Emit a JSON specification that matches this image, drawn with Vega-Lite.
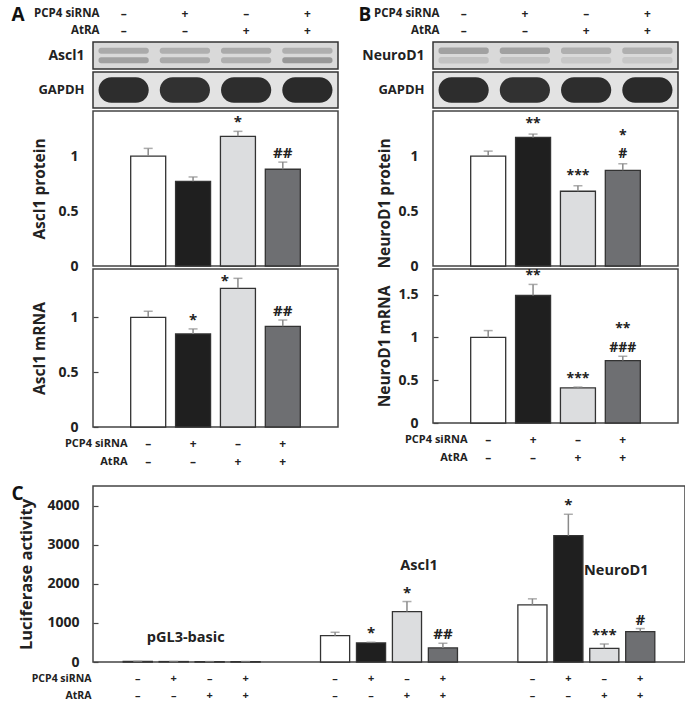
{
  "$schema": "https://vega.github.io/schema/vega-lite/v6.json",
  "background": "white",
  "padding": {"left": 10, "top": 5, "right": 2, "bottom": 0},
  "config": {
    "font": "Open Sans",
    "view": {"stroke": "#444", "strokeWidth": 1.5},
    "axis": {"labelFont": "Open Sans", "titleFont": "Open Sans", "labelFontWeight": "bold", "titleFontWeight": "bold", "labelColor": "#222", "titleColor": "#222", "grid": false, "domain": false, "labelFontSize": 14, "titleFontSize": 15.5, "tickColor": "#444", "tickWidth": 1.2},
    "text": {"font": "Open Sans", "fontWeight": "bold", "color": "#222"}
  },
  "resolve": {"scale": {"color": "independent", "xOffset": "independent", "yOffset": "independent"}},
  "datasets": {
    "design": [
      {"lane": 1, "factor": "PCP4 siRNA", "sign": "–"}, {"lane": 1, "factor": "AtRA", "sign": "–"},
      {"lane": 2, "factor": "PCP4 siRNA", "sign": "+"}, {"lane": 2, "factor": "AtRA", "sign": "–"},
      {"lane": 3, "factor": "PCP4 siRNA", "sign": "–"}, {"lane": 3, "factor": "AtRA", "sign": "+"},
      {"lane": 4, "factor": "PCP4 siRNA", "sign": "+"}, {"lane": 4, "factor": "AtRA", "sign": "+"}
    ],
    "designC": [
      {"grp": "pGL3-basic", "lane": 1, "factor": "PCP4 siRNA", "sign": "–"}, {"grp": "pGL3-basic", "lane": 1, "factor": "AtRA", "sign": "–"},
      {"grp": "pGL3-basic", "lane": 2, "factor": "PCP4 siRNA", "sign": "+"}, {"grp": "pGL3-basic", "lane": 2, "factor": "AtRA", "sign": "–"},
      {"grp": "pGL3-basic", "lane": 3, "factor": "PCP4 siRNA", "sign": "–"}, {"grp": "pGL3-basic", "lane": 3, "factor": "AtRA", "sign": "+"},
      {"grp": "pGL3-basic", "lane": 4, "factor": "PCP4 siRNA", "sign": "+"}, {"grp": "pGL3-basic", "lane": 4, "factor": "AtRA", "sign": "+"},
      {"grp": "Ascl1", "lane": 1, "factor": "PCP4 siRNA", "sign": "–"}, {"grp": "Ascl1", "lane": 1, "factor": "AtRA", "sign": "–"},
      {"grp": "Ascl1", "lane": 2, "factor": "PCP4 siRNA", "sign": "+"}, {"grp": "Ascl1", "lane": 2, "factor": "AtRA", "sign": "–"},
      {"grp": "Ascl1", "lane": 3, "factor": "PCP4 siRNA", "sign": "–"}, {"grp": "Ascl1", "lane": 3, "factor": "AtRA", "sign": "+"},
      {"grp": "Ascl1", "lane": 4, "factor": "PCP4 siRNA", "sign": "+"}, {"grp": "Ascl1", "lane": 4, "factor": "AtRA", "sign": "+"},
      {"grp": "NeuroD1", "lane": 1, "factor": "PCP4 siRNA", "sign": "–"}, {"grp": "NeuroD1", "lane": 1, "factor": "AtRA", "sign": "–"},
      {"grp": "NeuroD1", "lane": 2, "factor": "PCP4 siRNA", "sign": "+"}, {"grp": "NeuroD1", "lane": 2, "factor": "AtRA", "sign": "–"},
      {"grp": "NeuroD1", "lane": 3, "factor": "PCP4 siRNA", "sign": "–"}, {"grp": "NeuroD1", "lane": 3, "factor": "AtRA", "sign": "+"},
      {"grp": "NeuroD1", "lane": 4, "factor": "PCP4 siRNA", "sign": "+"}, {"grp": "NeuroD1", "lane": 4, "factor": "AtRA", "sign": "+"}
    ],
    "blots": [
      {"blot": "Ascl1", "lane": 1, "band": "upper", "density": 0.28}, {"blot": "Ascl1", "lane": 1, "band": "lower", "density": 0.32},
      {"blot": "Ascl1", "lane": 2, "band": "upper", "density": 0.26}, {"blot": "Ascl1", "lane": 2, "band": "lower", "density": 0.28},
      {"blot": "Ascl1", "lane": 3, "band": "upper", "density": 0.28}, {"blot": "Ascl1", "lane": 3, "band": "lower", "density": 0.26},
      {"blot": "Ascl1", "lane": 4, "band": "upper", "density": 0.26}, {"blot": "Ascl1", "lane": 4, "band": "lower", "density": 0.36},
      {"blot": "GAPDH", "lane": 1, "band": "main", "density": 0.86}, {"blot": "GAPDH", "lane": 2, "band": "main", "density": 0.84},
      {"blot": "GAPDH", "lane": 3, "band": "main", "density": 0.86}, {"blot": "GAPDH", "lane": 4, "band": "main", "density": 0.88},
      {"blot": "NeuroD1", "lane": 1, "band": "upper", "density": 0.32}, {"blot": "NeuroD1", "lane": 1, "band": "lower", "density": 0.18},
      {"blot": "NeuroD1", "lane": 2, "band": "upper", "density": 0.32}, {"blot": "NeuroD1", "lane": 2, "band": "lower", "density": 0.18},
      {"blot": "NeuroD1", "lane": 3, "band": "upper", "density": 0.26}, {"blot": "NeuroD1", "lane": 3, "band": "lower", "density": 0.16},
      {"blot": "NeuroD1", "lane": 4, "band": "upper", "density": 0.26}, {"blot": "NeuroD1", "lane": 4, "band": "lower", "density": 0.16}
    ],
    "bars": [
      {"panel": "Ap", "lane": 1, "value": 1.0, "upper": 1.07, "sig": "", "sigTop": "", "sigLeft": ""},
      {"panel": "Ap", "lane": 2, "value": 0.77, "upper": 0.81, "sig": "", "sigTop": "", "sigLeft": ""},
      {"panel": "Ap", "lane": 3, "value": 1.18, "upper": 1.225, "sig": "*", "sigTop": "", "sigLeft": ""},
      {"panel": "Ap", "lane": 4, "value": 0.88, "upper": 0.945, "sig": "##", "sigTop": "", "sigLeft": ""},
      {"panel": "Am", "lane": 1, "value": 1.0, "upper": 1.055, "sig": "", "sigTop": "", "sigLeft": ""},
      {"panel": "Am", "lane": 2, "value": 0.848, "upper": 0.894, "sig": "*", "sigTop": "", "sigLeft": ""},
      {"panel": "Am", "lane": 3, "value": 1.264, "upper": 1.355, "sig": "", "sigTop": "", "sigLeft": "*"},
      {"panel": "Am", "lane": 4, "value": 0.918, "upper": 0.975, "sig": "##", "sigTop": "", "sigLeft": ""},
      {"panel": "Bp", "lane": 1, "value": 1.0, "upper": 1.045, "sig": "", "sigTop": "", "sigLeft": ""},
      {"panel": "Bp", "lane": 2, "value": 1.17, "upper": 1.2, "sig": "**", "sigTop": "", "sigLeft": ""},
      {"panel": "Bp", "lane": 3, "value": 0.68, "upper": 0.73, "sig": "***", "sigTop": "", "sigLeft": ""},
      {"panel": "Bp", "lane": 4, "value": 0.87, "upper": 0.93, "sig": "#", "sigTop": "*", "sigLeft": ""},
      {"panel": "Bm", "lane": 1, "value": 1.0, "upper": 1.08, "sig": "", "sigTop": "", "sigLeft": ""},
      {"panel": "Bm", "lane": 2, "value": 1.49, "upper": 1.62, "sig": "**", "sigTop": "", "sigLeft": ""},
      {"panel": "Bm", "lane": 3, "value": 0.41, "upper": 0.42, "sig": "***", "sigTop": "", "sigLeft": ""},
      {"panel": "Bm", "lane": 4, "value": 0.73, "upper": 0.78, "sig": "###", "sigTop": "**", "sigLeft": ""}
    ],
    "lucif": [
      {"grp": "pGL3-basic", "lane": 1, "value": 15, "upper": 15, "sig": ""},
      {"grp": "pGL3-basic", "lane": 2, "value": 12, "upper": 12, "sig": ""},
      {"grp": "pGL3-basic", "lane": 3, "value": 10, "upper": 10, "sig": ""},
      {"grp": "pGL3-basic", "lane": 4, "value": 12, "upper": 12, "sig": ""},
      {"grp": "Ascl1", "lane": 1, "value": 674, "upper": 760, "sig": ""},
      {"grp": "Ascl1", "lane": 2, "value": 487, "upper": 505, "sig": "*"},
      {"grp": "Ascl1", "lane": 3, "value": 1290, "upper": 1546, "sig": "*"},
      {"grp": "Ascl1", "lane": 4, "value": 359, "upper": 479, "sig": "##"},
      {"grp": "NeuroD1", "lane": 1, "value": 1462, "upper": 1615, "sig": ""},
      {"grp": "NeuroD1", "lane": 2, "value": 3231, "upper": 3777, "sig": "*"},
      {"grp": "NeuroD1", "lane": 3, "value": 350, "upper": 462, "sig": "***"},
      {"grp": "NeuroD1", "lane": 4, "value": 778, "upper": 855, "sig": "#"}
    ],
    "genes": [
      {"grp": "pGL3-basic", "lane": 2, "at": 614},
      {"grp": "Ascl1", "lane": 3, "at": 2455},
      {"grp": "NeuroD1", "lane": 3, "at": 2327}
    ]
  },
  "vconcat": [
    {
      "resolve": {"scale": {"color": "independent", "xOffset": "independent", "yOffset": "independent"}},
      "hconcat": [
        {
          "resolve": {"scale": {"color": "independent", "xOffset": "independent", "yOffset": "independent"}},
          "vconcat": [
            {
              "width": 245, "height": 34,
              "view": {"stroke": null},
              "data": {"name": "design"},
              "mark": {"type": "text", "fontSize": 12, "color": "#222"},
              "encoding": {
                "x": {"field": "lane", "type": "ordinal", "scale": {"type": "band", "paddingInner": 0, "paddingOuter": 0}, "axis": {"orient": "top", "labels": false, "ticks": false, "domain": false, "title": "A", "titleX": -82, "titleY": 15, "titleAlign": "left", "titleBaseline": "alphabetic", "titleAngle": 0, "titleFontSize": 19, "titleColor": "#111"}},
                "y": {"field": "factor", "type": "nominal", "sort": ["PCP4 siRNA", "AtRA"], "scale": {"type": "band", "paddingInner": 0, "paddingOuter": 0}, "axis": {"title": null, "ticks": false, "labelPadding": -6, "labelFontSize": 11.5}},
                "text": {"field": "sign"}
              }
            },
            {
              "width": 245, "height": 27,
              "view": {"fill": "#d9d9d9", "stroke": "#333", "strokeWidth": 1.5},
              "data": {"name": "blots"},
              "transform": [{"filter": "datum.blot === 'Ascl1'"}],
              "mark": {"type": "bar", "cornerRadius": 2.5},
              "encoding": {
                "x": {"field": "lane", "type": "ordinal", "scale": {"paddingInner": 0.18, "paddingOuter": 0.09}, "axis": null},
                "y": {"field": "blot", "type": "nominal", "scale": {"paddingInner": 0, "paddingOuter": 0}, "axis": {"title": null, "ticks": false, "labelPadding": 9, "labelFontSize": 14}},
                "yOffset": {"field": "band", "type": "nominal", "sort": ["upper", "lower"], "scale": {"paddingInner": 0.35, "paddingOuter": 0.6}},
                "color": {"field": "density", "type": "quantitative", "scale": {"domain": [0, 1], "range": ["#efefef", "#141414"]}, "legend": null}
              }
            },
            {
              "width": 245, "height": 36,
              "view": {"fill": "#e3e3e3", "stroke": "#333", "strokeWidth": 1.5},
              "data": {"name": "blots"},
              "transform": [{"filter": "datum.blot === 'GAPDH'"}],
              "mark": {"type": "bar", "cornerRadius": 13},
              "encoding": {
                "x": {"field": "lane", "type": "ordinal", "scale": {"paddingInner": 0.18, "paddingOuter": 0.09}, "axis": null},
                "y": {"field": "blot", "type": "nominal", "scale": {"paddingInner": 0, "paddingOuter": 0}, "axis": {"title": null, "ticks": false, "labelPadding": 9, "labelFontSize": 13}},
                "yOffset": {"field": "band", "type": "nominal", "scale": {"paddingInner": 0, "paddingOuter": 0.2}},
                "color": {"field": "density", "type": "quantitative", "scale": {"domain": [0, 1], "range": ["#efefef", "#141414"]}, "legend": null}
              }
            },
            {
              "width": 245, "height": 155,
              "data": {"name": "bars"},
              "transform": [{"filter": "datum.panel === 'Ap'"}],
              "encoding": {"x": {"field": "lane", "type": "ordinal", "scale": {"type": "band", "paddingInner": 0.22, "paddingOuter": 0.84}, "axis": null}},
              "layer": [
                {"mark": {"type": "bar", "stroke": "#333", "strokeWidth": 1.3},
                 "encoding": {
                   "y": {"field": "value", "type": "quantitative", "scale": {"domain": [0, 1.41], "nice": false}, "axis": {"title": "Ascl1 protein", "values": [0, 0.5, 1], "format": "~g", "ticks": false, "labelPadding": 15, "titlePadding": 10}},
                   "color": {"field": "lane", "type": "ordinal", "scale": {"range": ["#ffffff", "#1f1f1f", "#dcdddf", "#6e6f72"]}, "legend": null}}},
                {"mark": {"type": "rule", "color": "#8a8a8a", "strokeWidth": 1.5}, "encoding": {"y": {"field": "value", "type": "quantitative"}, "y2": {"field": "upper"}}},
                {"mark": {"type": "tick", "color": "#8a8a8a", "thickness": 1.5, "size": 9}, "encoding": {"y": {"field": "upper", "type": "quantitative"}}},
                {"mark": {"type": "text", "baseline": "bottom", "dy": -1, "fontSize": 15, "color": "#222"}, "encoding": {"y": {"field": "upper", "type": "quantitative"}, "text": {"field": "sig"}}}
              ]
            },
            {
              "width": 245, "height": 158,
              "data": {"name": "bars"},
              "transform": [{"filter": "datum.panel === 'Am'"}],
              "encoding": {"x": {"field": "lane", "type": "ordinal", "scale": {"type": "band", "paddingInner": 0.22, "paddingOuter": 0.84}, "axis": null}},
              "layer": [
                {"mark": {"type": "bar", "stroke": "#333", "strokeWidth": 1.3},
                 "encoding": {
                   "y": {"field": "value", "type": "quantitative", "scale": {"domain": [0, 1.44], "nice": false}, "axis": {"title": "Ascl1 mRNA", "values": [0, 0.5, 1], "format": "~g", "tickSize": -5, "labelPadding": 20, "titlePadding": 10}},
                   "color": {"field": "lane", "type": "ordinal", "scale": {"range": ["#ffffff", "#1f1f1f", "#dcdddf", "#6e6f72"]}, "legend": null}}},
                {"mark": {"type": "rule", "color": "#8a8a8a", "strokeWidth": 1.5}, "encoding": {"y": {"field": "value", "type": "quantitative"}, "y2": {"field": "upper"}}},
                {"mark": {"type": "tick", "color": "#8a8a8a", "thickness": 1.5, "size": 9}, "encoding": {"y": {"field": "upper", "type": "quantitative"}}},
                {"mark": {"type": "text", "baseline": "bottom", "dy": -1, "fontSize": 15, "color": "#222"}, "encoding": {"y": {"field": "upper", "type": "quantitative"}, "text": {"field": "sig"}}},
                {"mark": {"type": "text", "baseline": "alphabetic", "dx": -13, "dy": 8, "fontSize": 15, "color": "#222"}, "encoding": {"y": {"field": "upper", "type": "quantitative"}, "text": {"field": "sigLeft"}}}
              ]
            },
            {
              "width": 245, "height": 45,
              "view": {"stroke": null},
              "data": {"name": "design"},
              "mark": {"type": "text", "fontSize": 12, "color": "#222"},
              "encoding": {
                "x": {"field": "lane", "type": "ordinal", "scale": {"type": "band", "paddingInner": 0.22, "paddingOuter": 0.84}, "axis": null},
                "y": {"field": "factor", "type": "nominal", "sort": ["PCP4 siRNA", "AtRA"], "scale": {"type": "band", "paddingInner": 0, "paddingOuter": 0.25}, "axis": {"title": null, "ticks": false, "labelPadding": -34, "labelFontSize": 11}},
                "text": {"field": "sign"}
              }
            }
          ],
          "spacing": 3,
          "bounds": "flush"
        },
        {
          "resolve": {"scale": {"color": "independent", "xOffset": "independent", "yOffset": "independent"}},
          "vconcat": [
            {
              "width": 245, "height": 34,
              "view": {"stroke": null},
              "data": {"name": "design"},
              "mark": {"type": "text", "fontSize": 12, "color": "#222"},
              "encoding": {
                "x": {"field": "lane", "type": "ordinal", "scale": {"type": "band", "paddingInner": 0, "paddingOuter": 0}, "axis": {"orient": "top", "labels": false, "ticks": false, "domain": false, "title": "B", "titleX": -75, "titleY": 15, "titleAlign": "left", "titleBaseline": "alphabetic", "titleAngle": 0, "titleFontSize": 19, "titleColor": "#111"}},
                "y": {"field": "factor", "type": "nominal", "sort": ["PCP4 siRNA", "AtRA"], "scale": {"type": "band", "paddingInner": 0, "paddingOuter": 0}, "axis": {"title": null, "ticks": false, "labelPadding": -6, "labelFontSize": 11.5}},
                "text": {"field": "sign"}
              }
            },
            {
              "width": 245, "height": 27,
              "view": {"fill": "#d9d9d9", "stroke": "#333", "strokeWidth": 1.5},
              "data": {"name": "blots"},
              "transform": [{"filter": "datum.blot === 'NeuroD1'"}],
              "mark": {"type": "bar", "cornerRadius": 2.5},
              "encoding": {
                "x": {"field": "lane", "type": "ordinal", "scale": {"paddingInner": 0.18, "paddingOuter": 0.09}, "axis": null},
                "y": {"field": "blot", "type": "nominal", "scale": {"paddingInner": 0, "paddingOuter": 0}, "axis": {"title": null, "ticks": false, "labelPadding": 9, "labelFontSize": 14}},
                "yOffset": {"field": "band", "type": "nominal", "sort": ["upper", "lower"], "scale": {"paddingInner": 0.3, "paddingOuter": 0.6}},
                "color": {"field": "density", "type": "quantitative", "scale": {"domain": [0, 1], "range": ["#efefef", "#141414"]}, "legend": null}
              }
            },
            {
              "width": 245, "height": 36,
              "view": {"fill": "#e3e3e3", "stroke": "#333", "strokeWidth": 1.5},
              "data": {"name": "blots"},
              "transform": [{"filter": "datum.blot === 'GAPDH'"}],
              "mark": {"type": "bar", "cornerRadius": 13},
              "encoding": {
                "x": {"field": "lane", "type": "ordinal", "scale": {"paddingInner": 0.18, "paddingOuter": 0.09}, "axis": null},
                "y": {"field": "blot", "type": "nominal", "scale": {"paddingInner": 0, "paddingOuter": 0}, "axis": {"title": null, "ticks": false, "labelPadding": 9, "labelFontSize": 13}},
                "yOffset": {"field": "band", "type": "nominal", "scale": {"paddingInner": 0, "paddingOuter": 0.2}},
                "color": {"field": "density", "type": "quantitative", "scale": {"domain": [0, 1], "range": ["#efefef", "#141414"]}, "legend": null}
              }
            },
            {
              "width": 245, "height": 155,
              "data": {"name": "bars"},
              "transform": [{"filter": "datum.panel === 'Bp'"}],
              "encoding": {"x": {"field": "lane", "type": "ordinal", "scale": {"type": "band", "paddingInner": 0.22, "paddingOuter": 0.84}, "axis": null}},
              "layer": [
                {"mark": {"type": "bar", "stroke": "#333", "strokeWidth": 1.3},
                 "encoding": {
                   "y": {"field": "value", "type": "quantitative", "scale": {"domain": [0, 1.41], "nice": false}, "axis": {"title": "NeuroD1 protein", "titleY": 92, "values": [0, 0.5, 1], "format": "~g", "ticks": false, "labelPadding": 15, "titlePadding": 5}},
                   "color": {"field": "lane", "type": "ordinal", "scale": {"range": ["#ffffff", "#1f1f1f", "#dcdddf", "#6e6f72"]}, "legend": null}}},
                {"mark": {"type": "rule", "color": "#8a8a8a", "strokeWidth": 1.5}, "encoding": {"y": {"field": "value", "type": "quantitative"}, "y2": {"field": "upper"}}},
                {"mark": {"type": "tick", "color": "#8a8a8a", "thickness": 1.5, "size": 9}, "encoding": {"y": {"field": "upper", "type": "quantitative"}}},
                {"mark": {"type": "text", "baseline": "bottom", "dy": -3, "fontSize": 14, "color": "#222"}, "encoding": {"y": {"field": "upper", "type": "quantitative"}, "text": {"field": "sig"}}},
                {"mark": {"type": "text", "baseline": "bottom", "dy": -21, "fontSize": 14, "color": "#222"}, "encoding": {"y": {"field": "upper", "type": "quantitative"}, "text": {"field": "sigTop"}}}
              ]
            },
            {
              "width": 245, "height": 154,
              "data": {"name": "bars"},
              "transform": [{"filter": "datum.panel === 'Bm'"}],
              "encoding": {"x": {"field": "lane", "type": "ordinal", "scale": {"type": "band", "paddingInner": 0.22, "paddingOuter": 0.84}, "axis": null}},
              "layer": [
                {"mark": {"type": "bar", "stroke": "#333", "strokeWidth": 1.3},
                 "encoding": {
                   "y": {"field": "value", "type": "quantitative", "scale": {"domain": [0, 1.8], "nice": false}, "axis": {"title": "NeuroD1 mRNA", "values": [0, 0.5, 1, 1.5], "format": "~g", "tickSize": -5, "labelPadding": 20, "titlePadding": 5}},
                   "color": {"field": "lane", "type": "ordinal", "scale": {"range": ["#ffffff", "#1f1f1f", "#dcdddf", "#6e6f72"]}, "legend": null}}},
                {"mark": {"type": "rule", "color": "#8a8a8a", "strokeWidth": 1.5}, "encoding": {"y": {"field": "value", "type": "quantitative"}, "y2": {"field": "upper"}}},
                {"mark": {"type": "tick", "color": "#8a8a8a", "thickness": 1.5, "size": 9}, "encoding": {"y": {"field": "upper", "type": "quantitative"}}},
                {"mark": {"type": "text", "baseline": "bottom", "dy": -1, "fontSize": 14, "color": "#222"}, "encoding": {"y": {"field": "upper", "type": "quantitative"}, "text": {"field": "sig"}}},
                {"mark": {"type": "text", "baseline": "bottom", "dy": -20, "fontSize": 14, "color": "#222"}, "encoding": {"y": {"field": "upper", "type": "quantitative"}, "text": {"field": "sigTop"}}}
              ]
            },
            {
              "width": 245, "height": 45,
              "view": {"stroke": null},
              "data": {"name": "design"},
              "mark": {"type": "text", "fontSize": 12, "color": "#222"},
              "encoding": {
                "x": {"field": "lane", "type": "ordinal", "scale": {"type": "band", "paddingInner": 0.22, "paddingOuter": 0.84}, "axis": null},
                "y": {"field": "factor", "type": "nominal", "sort": ["PCP4 siRNA", "AtRA"], "scale": {"type": "band", "paddingInner": 0, "paddingOuter": 0.25}, "axis": {"title": null, "ticks": false, "labelPadding": -34, "labelFontSize": 11}},
                "text": {"field": "sign"}
              }
            }
          ],
          "spacing": 3,
          "bounds": "flush"
        }
      ],
      "spacing": 19
    },
    {
      "resolve": {"scale": {"color": "independent", "xOffset": "independent", "yOffset": "independent"}},
      "vconcat": [
        {
          "width": 592, "height": 176,
          "encoding": {
            "x": {"field": "grp", "type": "nominal", "sort": ["pGL3-basic", "Ascl1", "NeuroD1"], "scale": {"type": "band", "paddingInner": 0, "paddingOuter": 0}, "axis": {"orient": "top", "labels": false, "ticks": false, "domain": false, "title": "C", "titleX": -82, "titleY": 13, "titleAlign": "left", "titleBaseline": "alphabetic", "titleAngle": 0, "titleFontSize": 19, "titleColor": "#111"}},
            "xOffset": {"field": "lane", "type": "ordinal", "scale": {"type": "band", "paddingInner": 0.19, "paddingOuter": 0.84}}
          },
          "layer": [
            {"data": {"name": "lucif"}, "mark": {"type": "bar", "stroke": "#333", "strokeWidth": 1.3},
             "encoding": {
               "y": {"field": "value", "type": "quantitative", "scale": {"domain": [0, 4500], "nice": false}, "axis": {"title": "Luciferase activity", "titleFontSize": 16.5, "values": [0, 1000, 2000, 3000, 4000], "format": "d", "tickSize": -5, "labelPadding": 19, "titlePadding": 12}},
               "color": {"field": "lane", "type": "ordinal", "scale": {"range": ["#ffffff", "#1f1f1f", "#dcdddf", "#6e6f72"]}, "legend": null}}},
            {"data": {"name": "lucif"}, "mark": {"type": "rule", "color": "#8a8a8a", "strokeWidth": 1.5}, "encoding": {"y": {"field": "value", "type": "quantitative"}, "y2": {"field": "upper"}}},
            {"data": {"name": "lucif"}, "mark": {"type": "tick", "color": "#8a8a8a", "thickness": 1.5, "size": 9}, "encoding": {"y": {"field": "upper", "type": "quantitative"}}},
            {"data": {"name": "lucif"}, "mark": {"type": "text", "baseline": "bottom", "dy": -1, "fontSize": 15, "color": "#222"}, "encoding": {"y": {"field": "upper", "type": "quantitative"}, "text": {"field": "sig"}}},
            {"data": {"name": "genes"}, "mark": {"type": "text", "fontSize": 14.5, "dx": 12, "baseline": "middle", "color": "#222"}, "encoding": {"y": {"field": "at", "type": "quantitative"}, "text": {"field": "grp"}}}
          ]
        },
        {
          "width": 592, "height": 44.6,
          "view": {"stroke": null},
          "data": {"name": "designC"},
          "mark": {"type": "text", "fontSize": 11, "color": "#222"},
          "encoding": {
            "x": {"field": "grp", "type": "nominal", "sort": ["pGL3-basic", "Ascl1", "NeuroD1"], "scale": {"type": "band", "paddingInner": 0, "paddingOuter": 0}, "axis": null},
            "xOffset": {"field": "lane", "type": "ordinal", "scale": {"type": "band", "paddingInner": 0.19, "paddingOuter": 0.84}},
            "y": {"field": "factor", "type": "nominal", "sort": ["PCP4 siRNA", "AtRA"], "scale": {"type": "band", "paddingInner": 0, "paddingOuter": 0.35}, "axis": {"title": null, "ticks": false, "labelPadding": 2, "labelFontSize": 10.5}},
            "text": {"field": "sign"}
          }
        }
      ],
      "spacing": 3,
      "bounds": "flush"
    }
  ],
  "spacing": 8
}
